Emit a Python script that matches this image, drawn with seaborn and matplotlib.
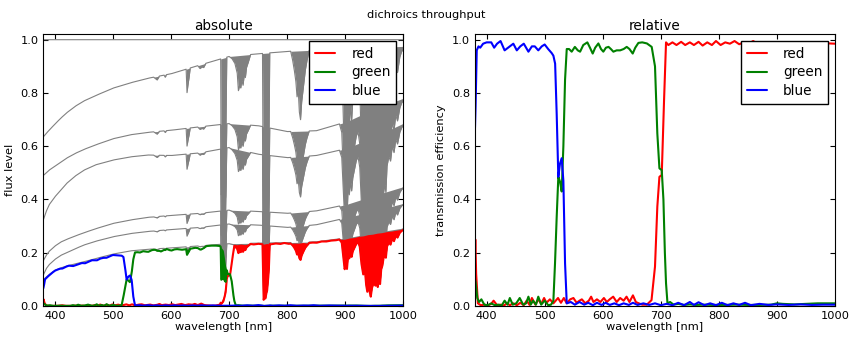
import numpy as np
import pandas as pd
import matplotlib
matplotlib.use("Agg")
import matplotlib.pyplot as plt
import seaborn as sns

cont_wl = [380, 385, 390, 400, 410, 420, 435, 450, 470, 500, 530, 560, 600, 650, 700, 750, 800, 850, 900, 950, 1000]
reference = [1.0, 1.0, 1.0, 1.0, 1.0, 1.0, 1.0, 1.0, 1.0, 1.0, 1.0, 1.0, 1.0, 1.0, 1.0, 1.0, 1.0, 1.0, 1.0, 1.0, 1.0]
stage_sky = [0.635, 0.648, 0.66, 0.683, 0.705, 0.725, 0.75, 0.77, 0.79, 0.818, 0.838, 0.855, 0.872, 0.905, 0.937, 0.947, 0.956, 0.961, 0.965, 0.97, 0.975]
stage_2 = [0.49, 0.5, 0.51, 0.525, 0.54, 0.555, 0.573, 0.588, 0.605, 0.628, 0.643, 0.652, 0.66, 0.673, 0.685, 0.677, 0.655, 0.658, 0.69, 0.74, 0.78]
stage_3 = [0.323, 0.355, 0.38, 0.41, 0.435, 0.46, 0.488, 0.51, 0.53, 0.548, 0.56, 0.567, 0.565, 0.575, 0.595, 0.57, 0.557, 0.565, 0.59, 0.635, 0.686]
stage_4 = [0.17, 0.19, 0.205, 0.225, 0.24, 0.25, 0.263, 0.275, 0.29, 0.31, 0.323, 0.333, 0.34, 0.348, 0.36, 0.355, 0.348, 0.357, 0.38, 0.415, 0.448]
stage_5 = [0.116, 0.14, 0.155, 0.175, 0.19, 0.2, 0.215, 0.229, 0.243, 0.26, 0.272, 0.28, 0.287, 0.295, 0.308, 0.304, 0.295, 0.305, 0.33, 0.358, 0.385]
stage_total = [0.099, 0.108, 0.118, 0.134, 0.143, 0.15, 0.158, 0.166, 0.178, 0.195, 0.207, 0.213, 0.218, 0.226, 0.234, 0.236, 0.238, 0.241, 0.255, 0.275, 0.293]

# --- telluric absorption (fraction transmitted), 1.0 outside the bands ---
band_wl = [570, 576, 580,
           588, 590, 592,
           626, 627.5, 629, 631, 633,
           646, 650, 653, 656, 660,
           685.5, 686.5, 688, 689.5, 691, 692.5, 694, 695, 696,
           700, 705, 710, 714, 716, 718, 720, 722, 724, 726, 728, 730, 733, 737,
           757.5, 759.5, 761, 762.5, 764, 765.5, 767, 768.5, 770,
           806, 809, 812, 815, 817, 819, 821, 823, 825, 827, 829, 831, 834, 838,
           890, 894, 897, 899, 901, 903, 905, 907, 909, 911, 913, 916, 919, 922, 925,
           928, 931, 934, 936, 938, 940, 942, 944, 946, 948, 950, 952, 954, 956, 958, 960,
           962, 964, 966, 968, 970, 972, 975, 978, 981, 984, 987, 990, 994, 997, 1000]
band_trans = [1.0, 0.985, 1.0,
              1.0, 0.99, 1.0,
              1.0, 0.9, 0.93, 0.96, 1.0,
              1.0, 0.985, 0.99, 0.985, 1.0,
              1.0, 0.45, 0.47, 0.5, 0.52, 0.55, 0.6, 0.8, 1.0,
              1.0, 0.99, 0.97, 0.93, 0.86, 0.88, 0.87, 0.9, 0.88, 0.92, 0.91, 0.95, 0.97, 1.0,
              1.0, 0.1, 0.15, 0.12, 0.2, 0.25, 0.4, 0.6, 1.0,
              1.0, 0.97, 0.93, 0.88, 0.82, 0.85, 0.76, 0.73, 0.8, 0.84, 0.88, 0.92, 0.96, 1.0,
              1.0, 0.95, 0.7, 0.55, 0.62, 0.55, 0.75, 0.7, 0.78, 0.72, 0.8, 0.85, 0.9, 0.92, 0.85,
              0.6, 0.45, 0.5, 0.3, 0.2, 0.32, 0.2, 0.13, 0.25, 0.3, 0.4, 0.28, 0.35, 0.26, 0.4, 0.3,
              0.5, 0.55, 0.65, 0.7, 0.65, 0.8, 0.85, 0.82, 0.9, 0.86, 0.93, 0.9, 0.96, 0.98, 0.99]

blue_wl = [380, 381, 383, 386, 389, 394, 400, 408, 413, 418, 424, 431, 437, 446, 452, 458, 464, 472, 478, 483,
           489, 495, 500, 506, 512, 515, 518, 520.7, 523.5, 526.4, 529.3, 532.2, 535.1, 538, 545, 552, 560, 568,
           575, 583, 590, 598, 605, 612, 620, 628, 636, 645, 652, 660, 670, 680, 690, 700, 710, 720, 730, 740,
           750, 757, 765, 775, 785, 795, 805, 815, 825, 835, 845, 855, 870, 885, 900, 920, 940, 960, 980, 1000]
blue_eff = [0.67, 0.75, 0.96, 0.975, 0.97, 0.985, 0.99, 0.99, 0.97, 0.985, 0.995, 0.96, 0.97, 0.985, 0.96, 0.975,
            0.985, 0.955, 0.975, 0.975, 0.96, 0.975, 0.982, 0.965, 0.95, 0.94, 0.91, 0.72, 0.485, 0.535, 0.555,
            0.47, 0.16, 0.01, 0.015, 0.005, 0.015, 0.005, 0.012, 0.003, 0.012, 0.004, 0.012, 0.004, 0.01, 0.003,
            0.01, 0.004, 0.012, 0.004, 0.01, 0.004, 0.01, 0.003, 0.008, 0.003, 0.012, 0.003, 0.015, 0.004, 0.014,
            0.003, 0.01, 0.003, 0.012, 0.003, 0.01, 0.004, 0.012, 0.003, 0.008, 0.004, 0.006, 0.004, 0.006, 0.004,
            0.005, 0.005]

green_wl = [380, 381, 384, 387, 391, 396, 402, 408, 414, 420, 426, 431, 436, 440, 445, 451, 457, 463, 468, 472,
            476, 480, 485, 489, 494, 500, 506, 511, 515, 517.8, 520.7, 523.5, 526.4, 529.3, 532.2, 535.1, 538,
            542, 546.5, 552, 557, 561, 566.5, 573.5, 578, 582.7, 587, 592.5, 597, 601, 605.5, 610, 614, 618.3,
            624, 630, 636, 641.3, 646, 651.6, 656, 661.4, 668, 676, 684.3, 690, 694, 697.6, 701.6, 704.5, 707,
            709, 711.5, 716, 722, 730, 740, 750, 760, 775, 790, 810, 830, 850, 870, 890, 900, 910, 930, 950, 970, 1000]
green_eff = [0.1, 0.09, 0.03, 0.015, 0.025, 0.005, 0.003, 0.01, 0.003, 0.005, 0.002, 0.02, 0.005, 0.03, 0.005,
             0.01, 0.03, 0.005, 0.01, 0.035, 0.005, 0.02, 0.005, 0.035, 0.005, 0.02, 0.003, 0.005, 0.02, 0.16,
             0.335, 0.485, 0.467, 0.43, 0.6, 0.85, 0.965, 0.965, 0.955, 0.973, 0.96, 0.955, 0.98, 0.99, 0.97,
             0.948, 0.97, 0.986, 0.965, 0.955, 0.97, 0.973, 0.965, 0.955, 0.96, 0.96, 0.965, 0.973, 0.965, 0.948,
             0.97, 0.988, 0.99, 0.986, 0.973, 0.9, 0.648, 0.517, 0.51, 0.4, 0.2, 0.085, 0.01, 0.015, 0.005, 0.008,
             0.004, 0.006, 0.004, 0.005, 0.004, 0.004, 0.005, 0.004, 0.004, 0.005, 0.01, 0.008, 0.006, 0.008,
             0.01, 0.01]

red_wl = [380, 380.5, 382, 385, 390, 396, 402, 408, 412, 418, 424, 430, 435, 440, 446, 452, 458, 464, 469, 474,
          478, 484, 489, 494, 499, 503, 509, 515, 519, 523, 528, 533, 538, 544, 549.5, 555, 560, 564, 570, 576,
          580, 584, 590, 596, 602, 607, 612, 618, 624, 630, 636, 641, 646, 652, 657, 662, 668, 676, 684, 690,
          694, 697.6, 701.6, 705.6, 709, 713, 720, 727, 735, 742, 750, 757, 765, 772, 780, 788, 795, 803, 811,
          819, 827, 835, 843, 851, 859, 867, 875, 883, 891, 899, 907, 915, 923, 931, 939, 947, 955, 963, 971,
          980, 990, 1000]
red_eff = [0.2, 0.25, 0.12, 0.01, 0.003, 0.005, 0.002, 0.008, 0.02, 0.003, 0.005, 0.002, 0.01, 0.003, 0.01,
           0.003, 0.012, 0.003, 0.02, 0.004, 0.03, 0.005, 0.025, 0.008, 0.03, 0.012, 0.025, 0.01, 0.02, 0.03,
           0.012, 0.03, 0.01, 0.025, 0.03, 0.012, 0.02, 0.025, 0.01, 0.02, 0.035, 0.015, 0.025, 0.015, 0.03,
           0.015, 0.025, 0.035, 0.015, 0.03, 0.02, 0.035, 0.015, 0.04, 0.015, 0.01, 0.005, 0.005, 0.022, 0.148,
           0.373, 0.485, 0.492, 0.773, 0.99, 0.98, 0.99, 0.98, 0.992, 0.98, 0.99, 0.98, 0.992, 0.978, 0.99, 0.98,
           0.995, 0.98, 0.99, 0.985, 0.995, 0.983, 0.99, 0.985, 0.995, 0.985, 0.99, 0.985, 0.99, 0.985, 0.99,
           0.985, 0.99, 0.985, 0.99, 0.985, 0.988, 0.985, 0.988, 0.985, 0.986, 0.985]

filter_names = ["red", "green", "blue"]
filter_curves = {"red": (red_wl, red_eff), "green": (green_wl, green_eff), "blue": (blue_wl, blue_eff)}
stages = {"reference": reference, "sky": stage_sky, "s2": stage_2, "s3": stage_3,
          "s4": stage_4, "s5": stage_5, "total": stage_total}

for wl, eff in filter_curves.values():
    assert len(wl) == len(eff)
assert len(band_wl) == len(band_trans)

# --- style: old-school matplotlib look ---
sns.set_style("ticks", {
    "axes.edgecolor": "black", "text.color": "black", "axes.labelcolor": "black",
    "xtick.color": "black", "ytick.color": "black",
    "xtick.direction": "in", "ytick.direction": "in",
    "xtick.top": True, "ytick.right": True,
})
plt.rcParams.update({
    "font.family": ["DejaVu Sans"],
    "font.size": 8.2,
    "axes.titlesize": 9.8,
    "axes.labelsize": 8.2,
    "xtick.labelsize": 8.2,
    "ytick.labelsize": 8.2,
    "axes.linewidth": 0.8,
    "xtick.major.size": 3.5,
    "ytick.major.size": 3.5,
})

# common wavelength sampling for the multiplied curves
grid = np.arange(380, 1000.01, 0.5)
telluric = np.interp(grid, band_wl, band_trans, left=1.0, right=1.0)

gray_rows = []
band_fills = []
for name, level in stages.items():
    cont = np.interp(grid, cont_wl, level)
    flux = cont if name == "reference" else cont * telluric
    band_fills.append((cont, flux))
    gray_rows.append(pd.DataFrame({"wavelength": grid, "flux": flux, "stage": name}))
gray_df = pd.concat(gray_rows, ignore_index=True)

total_cont = np.interp(grid, cont_wl, stage_total)
abs_rows, rel_rows, color_fills = [], [], []
for name in filter_names:
    wl, eff = filter_curves[name]
    clean = total_cont * np.interp(grid, wl, eff)
    flux = clean * telluric
    color_fills.append((name, clean, flux))
    abs_rows.append(pd.DataFrame({"wavelength": grid, "flux": flux, "filter": name}))
    rel_rows.append(pd.DataFrame({"wavelength": wl, "efficiency": eff, "filter": name}))
abs_df = pd.concat(abs_rows, ignore_index=True)
rel_df = pd.concat(rel_rows, ignore_index=True)

palette = {"red": "red", "green": "green", "blue": "blue"}

fig = plt.figure(figsize=(8.52, 3.37), dpi=100)
ax1 = fig.add_axes([43.3 / 852, 0.092, 360 / 852, 0.806])
ax2 = fig.add_axes([475 / 852, 0.092, 360 / 852, 0.806])

# absolute panel
for cont, flux in band_fills:
    ax1.fill_between(grid, flux, cont, color="gray", lw=0, zorder=1)
sns.lineplot(data=gray_df, x="wavelength", y="flux", units="stage", estimator=None, sort=False,
             color="gray", lw=0.8, legend=False, ax=ax1, zorder=1.5)
for name, clean, flux in color_fills:
    ax1.fill_between(grid, flux, clean, color=palette[name], lw=0, zorder=2)
sns.lineplot(data=abs_df, x="wavelength", y="flux", hue="filter", hue_order=filter_names,
             palette=palette, estimator=None, sort=False, lw=1.5, ax=ax1, zorder=2.5)
ax1.set_title("absolute", pad=3)
ax1.set_xlabel("wavelength [nm]", labelpad=1)
ax1.set_ylabel("flux level", labelpad=4)

# relative panel
sns.lineplot(data=rel_df, x="wavelength", y="efficiency", hue="filter", hue_order=filter_names,
             palette=palette, estimator=None, sort=False, lw=1.5, ax=ax2)
ax2.set_title("relative", pad=3)
ax2.set_xlabel("wavelength [nm]", labelpad=1)
ax2.set_ylabel("transmission efficiency", labelpad=4)

for ax in (ax1, ax2):
    ax.set_xlim(380, 1000)
    ax.set_ylim(0, 1.02)
    ax.set_xticks([400, 500, 600, 700, 800, 900, 1000])
    ax.set_yticks([0.0, 0.2, 0.4, 0.6, 0.8, 1.0])
    ax.set_yticklabels(["0.0", "0.2", "0.4", "0.6", "0.8", "1.0"])
    for side in ("top", "right", "bottom", "left"):
        ax.spines[side].set_visible(True)
        ax.spines[side].set_color("black")
    sns.move_legend(ax, "upper right", title=None, frameon=True, fancybox=False,
                    edgecolor="black", framealpha=1, fontsize=9.8, handlelength=1.5,
                    handletextpad=1.2, labelspacing=0.35, borderpad=0.4, borderaxespad=0.5)
    for line in ax.get_legend().get_lines():
        line.set_linewidth(1.5)

fig.suptitle("dichroics throughput", y=0.97, fontsize=8.2)
fig.savefig("out.png", dpi=100)
